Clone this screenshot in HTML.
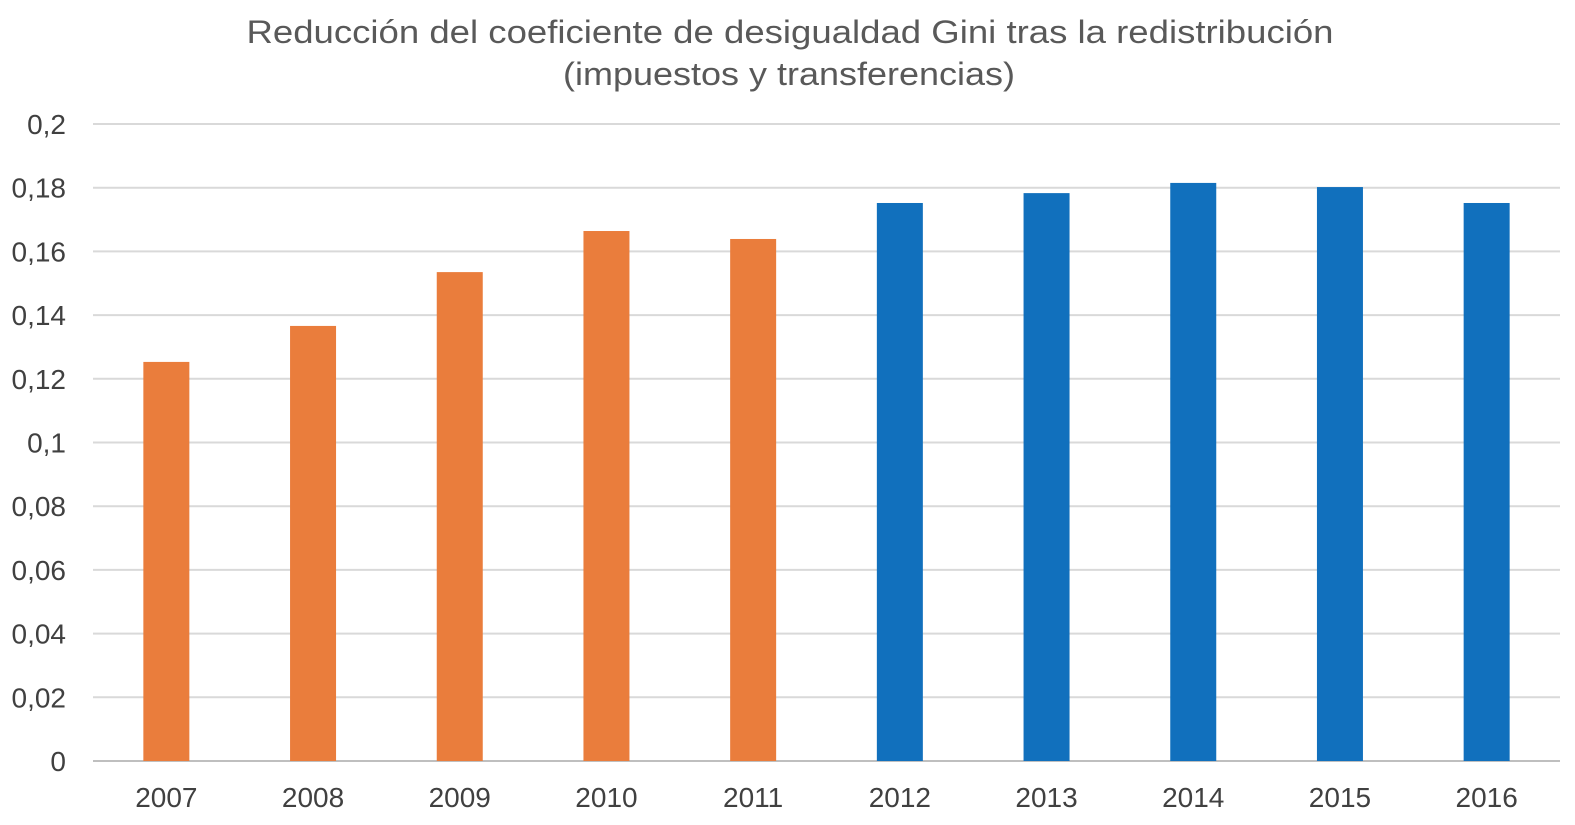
<!DOCTYPE html>
<html><head><meta charset="utf-8"><style>
body{margin:0;background:#fff;}
svg{display:block;font-family:"Liberation Sans",sans-serif;}
</style></head><body>
<svg id="chart" width="1575" height="825">
<text x="790" y="43" text-anchor="middle" font-size="32" fill="#595959" textLength="1087" lengthAdjust="spacingAndGlyphs">Reducción del coeficiente de desigualdad Gini tras la redistribución</text>
<text x="789" y="85" text-anchor="middle" font-size="32" fill="#595959" textLength="452" lengthAdjust="spacingAndGlyphs">(impuestos y transferencias)</text>
<g id="grid"></g><g id="bars"></g><g id="ylabels"></g><g id="xlabels"></g>
</svg>
<script>
const categories=["2007","2008","2009","2010","2011","2012","2013","2014","2015","2016"];
const values=[0.1253,0.1366,0.1535,0.1664,0.1639,0.1752,0.1783,0.1815,0.1802,0.1752];
const colors=["#ea7d3c","#ea7d3c","#ea7d3c","#ea7d3c","#ea7d3c","#1170bd","#1170bd","#1170bd","#1170bd","#1170bd"];
const ticks=[0,0.02,0.04,0.06,0.08,0.1,0.12,0.14,0.16,0.18,0.2];
const tickLabels=["0","0,02","0,04","0,06","0,08","0,1","0,12","0,14","0,16","0,18","0,2"];
const NS="http://www.w3.org/2000/svg";
const x0=93,x1=1560,yBase=761,yTop=124,yMax=0.2;
const y=v=>yBase-(v/yMax)*(yBase-yTop);
const band=(x1-x0)/categories.length;
const xc=i=>x0+band*(i+0.5);
function mk(t,a,p){const e=document.createElementNS(NS,t);for(const k in a)e.setAttribute(k,a[k]);p.appendChild(e);return e;}
const g=document.getElementById('grid'),b=document.getElementById('bars'),yl=document.getElementById('ylabels'),xl=document.getElementById('xlabels');
ticks.forEach((t,i)=>{
 const l=mk('line',{x1:x0,x2:x1,y1:y(t),y2:y(t),stroke:i==0?'#bfbfbf':'#d9d9d9','stroke-width':2},g);
 
 
 const tx=mk('text',{x:66,y:y(t)+10,'text-anchor':'end','font-size':28,fill:'#404040'},yl);
 tx.textContent=tickLabels[i];
 
 
});
categories.forEach((c,i)=>{
 const r=mk('rect',{x:xc(i)-23,y:y(values[i]),width:46,height:yBase-y(values[i]),fill:colors[i]},b);
 
 
 const tx=mk('text',{x:xc(i),y:807,'text-anchor':'middle','font-size':28,fill:'#404040'},xl);
 tx.textContent=c;
 
 
});
</script>
</body></html>
